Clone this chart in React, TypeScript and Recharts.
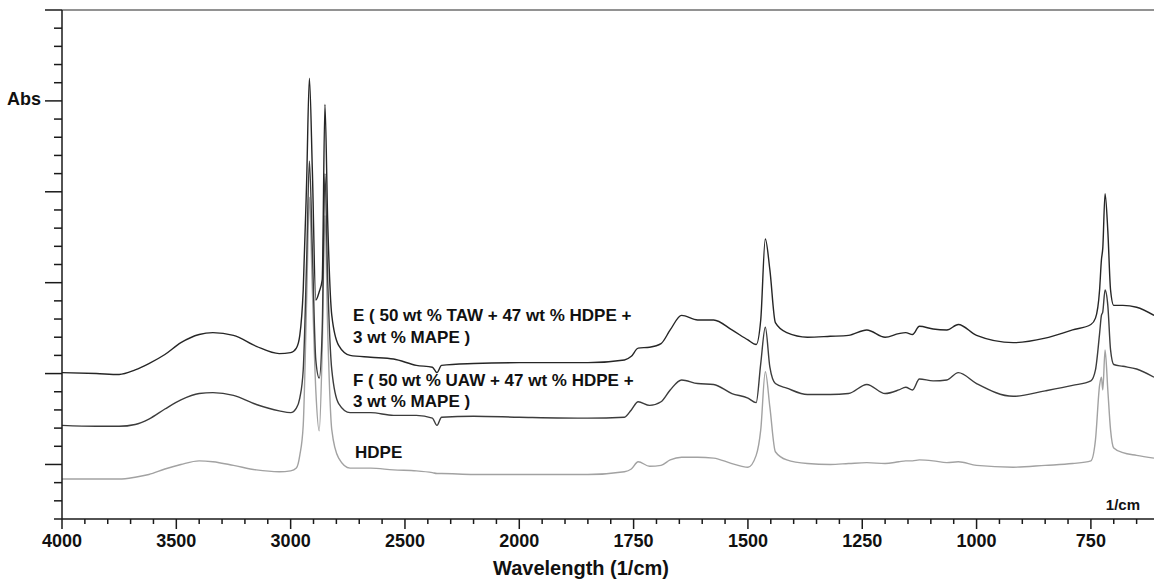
import React from 'react';
import { LineChart, Line, XAxis, YAxis, ReferenceLine } from 'recharts';

// FTIR spectra (Abs in arbitrary offset units)
const wavenumbers = [
  4000, 3850, 3750, 3680, 3620, 3550, 3480, 3400, 3340, 3250, 3150, 3050, 3000,
  2975, 2960, 2945, 2930, 2918, 2905, 2890, 2875, 2862, 2850, 2838, 2820, 2790, 2740,
  2650, 2550, 2450, 2380, 2360, 2340, 2200, 2000,
  1850, 1770, 1755, 1740, 1715, 1690, 1670, 1645, 1610, 1575, 1535, 1500,
  1482, 1472, 1462, 1452, 1440, 1415, 1370, 1320, 1280, 1240, 1200,
  1170, 1155, 1140, 1125, 1095, 1065, 1040, 1000,
  920, 850, 790, 750, 740, 731, 727, 724, 719, 713, 707, 700, 680, 650, 612,
];

const absE = [
  1.01, 1.0, 0.99, 1.04, 1.11, 1.21, 1.34, 1.43, 1.45, 1.42, 1.3, 1.22, 1.23,
  1.28, 1.42, 1.92, 3.12, 4.25, 3.23, 1.81, 1.9, 2.03, 3.96, 2.68, 1.64, 1.31, 1.2,
  1.18, 1.16, 1.09, 1.07, 1.01, 1.09, 1.11, 1.12,
  1.12, 1.15, 1.19, 1.28, 1.29, 1.33, 1.48, 1.64, 1.59, 1.59, 1.48, 1.37,
  1.32, 1.59, 2.48, 2.14, 1.56, 1.45, 1.4, 1.41, 1.42, 1.48, 1.4,
  1.44, 1.45, 1.43, 1.52, 1.49, 1.48, 1.54, 1.42,
  1.34, 1.39, 1.48, 1.54, 1.61, 1.92, 2.25, 2.38, 2.98, 2.57, 1.92, 1.75, 1.75, 1.73, 1.64,
];

const absF = [
  0.43, 0.42, 0.42, 0.44, 0.5, 0.61, 0.71, 0.78, 0.79, 0.76, 0.66, 0.59, 0.57,
  0.62, 0.73, 1.04, 2.25, 3.34, 2.35, 1.15, 0.95, 1.48, 3.2, 2.03, 1.04, 0.67, 0.57,
  0.57, 0.54, 0.54, 0.51, 0.43, 0.52, 0.53, 0.52,
  0.51, 0.52, 0.6, 0.69, 0.65, 0.69, 0.82, 0.93, 0.89, 0.88, 0.78, 0.73,
  0.68, 1.11, 1.51, 1.07, 0.89, 0.84, 0.77, 0.77, 0.78, 0.88, 0.78,
  0.82, 0.85, 0.82, 0.94, 0.92, 0.93, 1.01, 0.89,
  0.75, 0.81, 0.87, 0.92, 1.04, 1.44, 1.64, 1.68, 1.92, 1.75, 1.26, 1.1, 1.08, 1.05, 0.96,
];

const absHDPE = [
  -0.16, -0.16, -0.16, -0.14, -0.11, -0.05, 0.0, 0.04, 0.03, -0.01, -0.06, -0.08, -0.07,
  -0.04, 0.1, 0.43, 1.81, 2.94, 1.92, 0.82, 0.37, 1.26, 2.74, 1.48, 0.38, 0.07, -0.04,
  -0.04, -0.06, -0.07, -0.09, -0.1, -0.1, -0.11, -0.11,
  -0.11, -0.08, -0.05, 0.03, -0.02, -0.01, 0.05, 0.08, 0.08, 0.07, 0.01, -0.03,
  0.1, 0.38, 1.02, 0.63, 0.14, 0.05, 0.01, 0.0, 0.01, 0.02, 0.01,
  0.03, 0.04, 0.04, 0.05, 0.04, 0.02, 0.03, -0.01,
  -0.03, -0.01, 0.01, 0.04, 0.27, 0.87, 0.96, 0.82, 1.26, 0.82, 0.38, 0.18, 0.13, 0.1, 0.07,
];

const xMajorTicks = [4000, 3500, 3000, 2500, 2000, 1750, 1500, 1250, 1000, 750];
const X_END = 612;

const FONT = '"Liberation Sans", Arial, sans-serif';

// split x scale: 500 cm-1 per division above 2000, 250 below
const toPos = (wn: number) => (wn >= 2000 ? (4000 - wn) / 500 : 4 + (2000 - wn) / 250);
const fromPos = (p: number) => (p <= 4 ? 4000 - p * 500 : 2000 - (p - 4) * 250);

const chartData = wavenumbers.map((wn, i) => ({
  pos: toPos(wn),
  e: absE[i],
  f: absF[i],
  hdpe: absHDPE[i],
}));

const xTicks: number[] = [];
for (let wn = 4000; wn > 2000; wn -= 100) xTicks.push(toPos(wn));
for (let wn = 2000; wn >= 650; wn -= 50) xTicks.push(toPos(wn));

const yTicks: number[] = [];
for (let i = -3; i <= 25; i++) yTicks.push(i / 5);

const XTick = (props: any) => {
  const { x, y, payload } = props;
  const wn = Math.round(fromPos(payload.value));
  const major = xMajorTicks.includes(wn);
  return (
    <g>
      <line x1={x} x2={x} y1={y} y2={y + (major ? 10 : 5)} stroke="#1a1a1a" strokeWidth={1.5} />
      {major && (
        <text x={x} y={y + 28} textAnchor="middle" fontFamily={FONT} fontWeight="bold" fontSize={18} fill="#111">
          {wn}
        </text>
      )}
    </g>
  );
};

const YTick = (props: any) => {
  const { x, y, payload } = props;
  const major = Math.abs(payload.value - Math.round(payload.value)) < 1e-6;
  return <line x1={x - (major ? 17 : 8)} x2={x} y1={y} y2={y} stroke="#1a1a1a" strokeWidth={1.5} />;
};

const txt = { fontFamily: FONT, fontWeight: 'bold' as const, fill: '#111' };

export default function App() {
  return (
    <div style={{ position: 'absolute', left: 0, top: 0, width: 1154, height: 583, background: '#fff' }}>
      <LineChart width={1154} height={583} data={chartData} margin={{ top: 10, right: 0, bottom: 0, left: 0 }}>
        <XAxis
          type="number"
          dataKey="pos"
          domain={[0, toPos(X_END)]}
          ticks={xTicks}
          interval={0}
          allowDataOverflow
          height={64}
          tickSize={0}
          tickMargin={0}
          tickLine={false}
          tick={<XTick />}
          axisLine={{ stroke: '#1a1a1a', strokeWidth: 1.5 }}
        />
        <YAxis
          type="number"
          domain={[-0.6, 5]}
          ticks={yTicks}
          interval={0}
          allowDataOverflow
          width={62}
          tickSize={0}
          tickMargin={0}
          tickLine={false}
          tick={<YTick />}
          axisLine={{ stroke: '#1a1a1a', strokeWidth: 1.5 }}
        />
        <ReferenceLine y={5} stroke="#6e6e6e" strokeWidth={1.5} />
        <Line type="monotone" dataKey="hdpe" stroke="#a2a2a2" strokeWidth={1.4} dot={false} isAnimationActive={false} />
        <Line type="monotone" dataKey="f" stroke="#3c3c3c" strokeWidth={1.4} dot={false} isAnimationActive={false} />
        <Line type="monotone" dataKey="e" stroke="#262626" strokeWidth={1.4} dot={false} isAnimationActive={false} />
      </LineChart>

      <svg width={1154} height={583} style={{ position: 'absolute', left: 0, top: 0, pointerEvents: 'none' }}>
        <text x={41} y={105} textAnchor="end" fontSize={18} {...txt}>Abs</text>
        <text x={353} y={321} fontSize={17} {...txt}>E ( 50 wt % TAW + 47 wt % HDPE +</text>
        <text x={353} y={343} fontSize={17} {...txt}>3 wt % MAPE )</text>
        <text x={353} y={386} fontSize={17} {...txt}>F ( 50 wt % UAW + 47 wt % HDPE +</text>
        <text x={353} y={407} fontSize={17} {...txt}>3 wt % MAPE )</text>
        <text x={355} y={458} fontSize={17} {...txt}>HDPE</text>
        <text x={1140} y={510} textAnchor="end" fontSize={15} {...txt}>1/cm</text>
        <text x={581} y={575} textAnchor="middle" fontSize={20} {...txt}>Wavelength (1/cm)</text>
      </svg>
    </div>
  );
}
